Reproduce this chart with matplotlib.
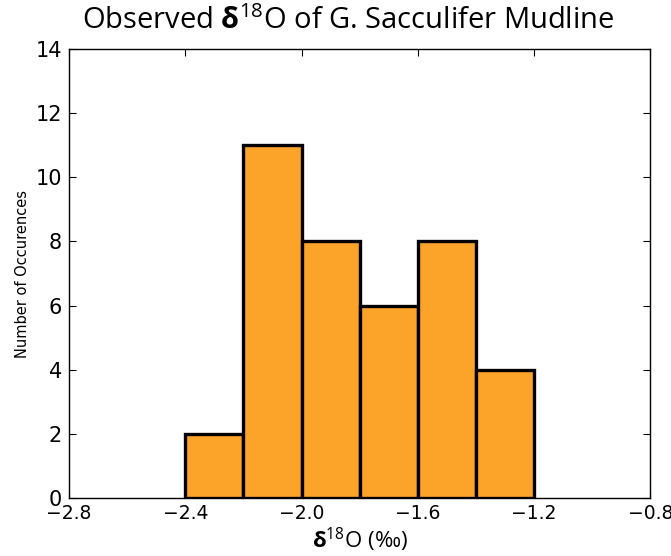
import matplotlib
matplotlib.use("Agg")
import matplotlib.pyplot as plt
import numpy as np

# histogram of observed d18O values
bin_edges = [-2.4, -2.2, -2.0, -1.8, -1.6, -1.4, -1.2]
counts = [2, 11, 8, 6, 8, 4]
x_ticks = [-2.8, -2.4, -2.0, -1.6, -1.2, -0.8]
y_ticks = [0, 2, 4, 6, 8, 10, 12, 14]

plt.rcParams['mathtext.fontset'] = 'custom'
plt.rcParams['mathtext.rm'] = 'Open Sans'
plt.rcParams['mathtext.bf'] = 'Open Sans:bold'
plt.rcParams['mathtext.it'] = 'Open Sans:italic'

fig = plt.figure(figsize=(6.71, 5.56), dpi=100)
ax = fig.add_axes([0.103, 0.104, 0.866, 0.808])

widths = np.diff(bin_edges)
ax.bar(bin_edges[:-1], counts, width=widths, align='edge',
       color='#FCA42A', edgecolor='black', linewidth=2.4)

ax.set_xlim(-2.8, -0.8)
ax.set_ylim(0, 14)
ax.set_xticks(x_ticks)
ax.set_xticklabels([f"{t:.1f}".replace('-', '\u2212') for t in x_ticks])
ax.set_yticks(y_ticks)
ax.tick_params(direction='in', length=5, top=True, right=True)
ax.tick_params(axis='x', labelsize=13.5, pad=4)
ax.tick_params(axis='y', labelsize=15, pad=5)
for s in ax.spines.values():
    s.set_linewidth(1.0)

ax.set_ylabel('Number of Occurences', fontsize=10.5, labelpad=4)
ax.set_xlabel(r'$\mathbf{\delta}^{18}$O (‰)', fontsize=16, family='Open Sans',
              labelpad=2)
ax.set_title(r'Observed $\mathbf{\delta}^{18}$O of G. Sacculifer Mudline',
             fontsize=21, family='Open Sans', pad=14, x=0.48)

fig.savefig('out.png', dpi=100)
